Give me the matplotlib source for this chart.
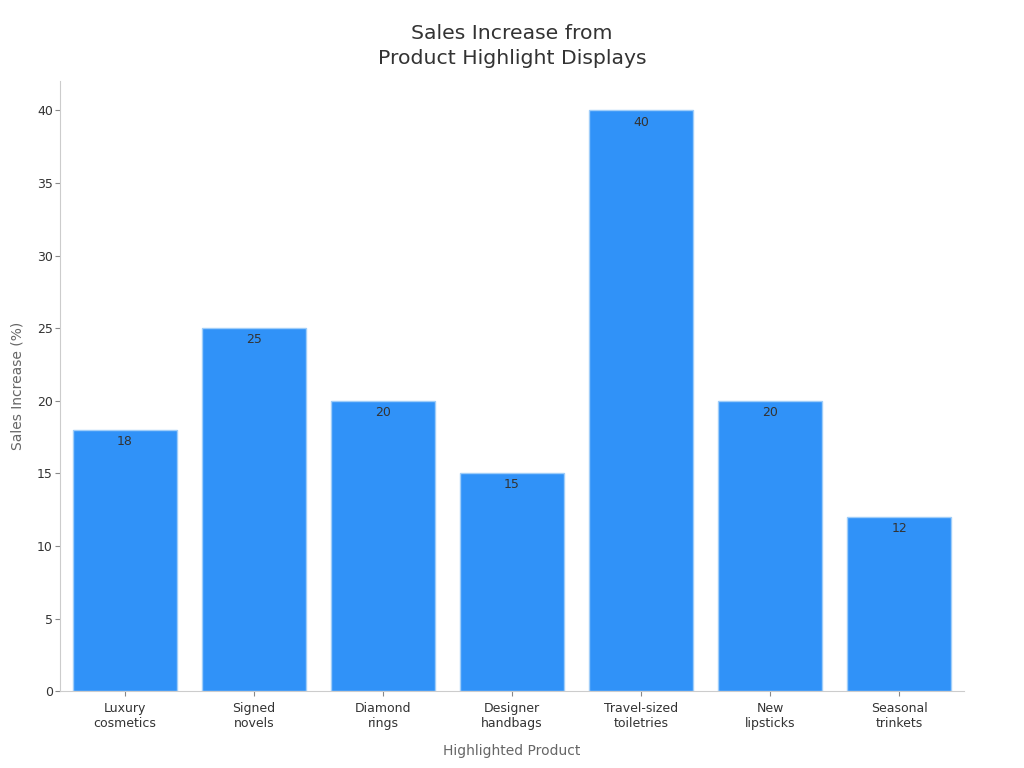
import matplotlib
matplotlib.use("Agg")
import matplotlib.pyplot as plt

categories = ["Luxury\ncosmetics", "Signed\nnovels", "Diamond\nrings", "Designer\nhandbags",
              "Travel-sized\ntoiletries", "New\nlipsticks", "Seasonal\ntrinkets"]
increase = [18, 25, 20, 15, 40, 20, 12]

plt.rcParams["font.family"] = ["DejaVu Sans"]

fig, ax = plt.subplots(figsize=(10.24, 7.68), dpi=100)
fig.subplots_adjust(left=0.059, right=0.941, top=0.894, bottom=0.1)

x = range(len(categories))
bars = ax.bar(x, increase, width=0.8, color="#3092f8", edgecolor="#9fcdf9", linewidth=1)
for b, v in zip(bars, increase):
    ax.text(b.get_x() + b.get_width() / 2, v - 0.35, str(v), ha="center", va="top",
            fontsize=9, color="#333333")

ax.set_xticks(list(x))
ax.set_xticklabels(categories, fontsize=9, color="#333333")
ax.set_xlim(-0.5, 6.5)
ax.set_ylim(0, 42)
ax.set_yticks(range(0, 41, 5))
ax.tick_params(axis="y", labelsize=9, labelcolor="#333333", color="#888888", pad=2)
ax.tick_params(axis="x", color="#888888", pad=4.5)

for s in ("top", "right"):
    ax.spines[s].set_visible(False)
for s in ("left", "bottom"):
    ax.spines[s].set_color("#cccccc")

ax.set_xlabel("Highlighted Product", fontsize=10, color="#666666", labelpad=9.5)
ax.set_ylabel("Sales Increase (%)", fontsize=10, color="#666666", labelpad=9)
ax.set_title("Sales Increase from\nProduct Highlight Displays", fontsize=14.7, color="#333333",
             pad=12.5, linespacing=1.38)

fig.savefig("out.png", dpi=100)
